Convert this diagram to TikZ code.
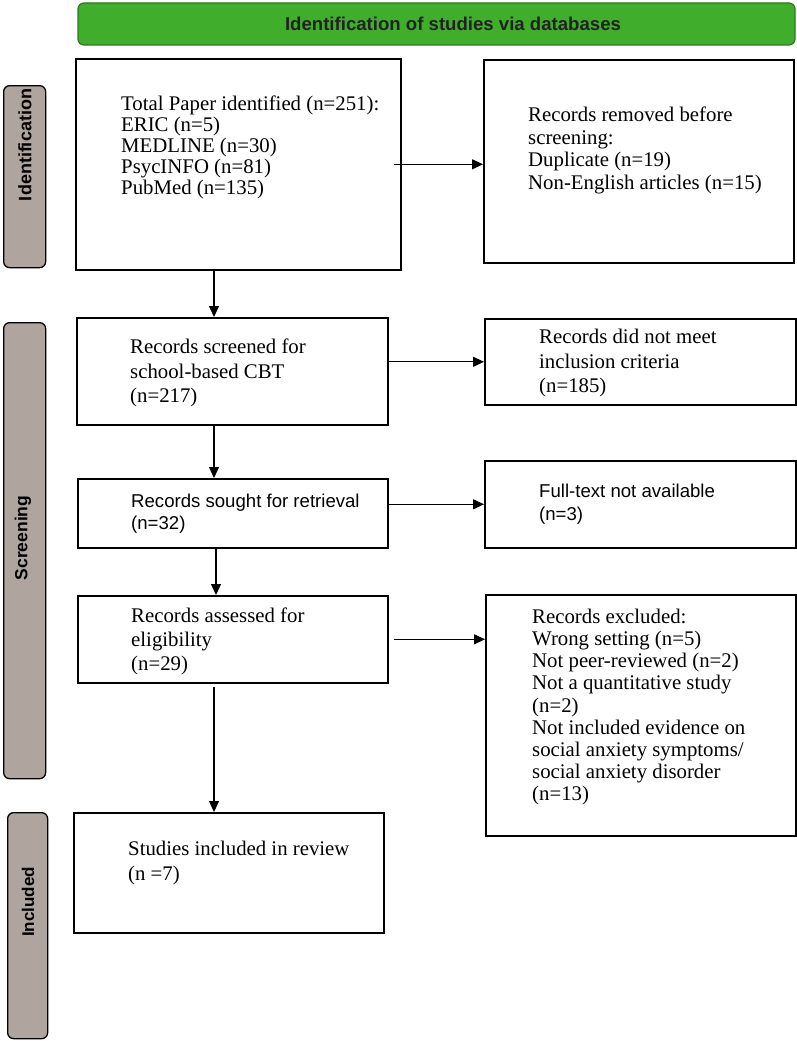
\documentclass[tikz,border=0pt]{standalone}
\usepackage{fontspec}
\setmainfont{Liberation Serif}
\setsansfont{Liberation Sans}
\usetikzlibrary{arrows.meta}
\definecolor{hdrgreen}{RGB}{64,174,44}
\definecolor{hdrborder}{RGB}{46,120,32}
\definecolor{sidefill}{RGB}{176,165,158}
\definecolor{hdrtext}{RGB}{34,34,34}
\begin{document}
\begin{tikzpicture}[x=1pt,y=-1pt,
  box/.style={draw=black,line width=1.6pt,anchor=north west,inner sep=0pt,fill=white},
  sidebar/.style={draw=black,line width=1.3pt,fill=sidefill,rounded corners=6pt,anchor=north west,inner sep=0pt},
  sidetext/.style={rotate=90,font=\sffamily\bfseries\fontsize{18}{20}\selectfont,inner sep=0pt},
  txt/.style={anchor=north west,align=left,inner sep=0pt},
  arr/.style={draw=black,line width=1.1pt,-{Triangle[length=11pt,width=10pt]}}
]
\useasboundingbox (0,0) rectangle (797,1041);
\fill[white] (0,0) rectangle (797,1041);

% header
\node[draw=hdrborder,line width=1.2pt,fill=hdrgreen,rounded corners=6pt,minimum width=717pt,minimum height=42pt,inner sep=0pt] (hdr) at (436.5,24) {};
\node[text=hdrtext,font=\sffamily\bfseries\fontsize{18.6}{22}\selectfont,inner sep=0pt] (hdrt) at (453,24) {Identification of studies via databases};

% side bars
\node[sidebar,minimum width=42pt,minimum height=182pt] (sid) at (3,85) {};
\node[sidetext] (sidt) at (25,145) {Identification};
\node[sidebar,minimum width=42pt,minimum height=456pt] (ssc) at (3,322) {};
\node[sidetext,font=\sffamily\bfseries\fontsize{17.5}{20}\selectfont] (ssct) at (23,538) {Screening};
\node[sidebar,minimum width=40pt,minimum height=226pt] (sin) at (7,812) {};
\node[sidetext,font=\sffamily\bfseries\fontsize{17}{20}\selectfont] (sint) at (28,902) {Included};

% left boxes
\node[box,minimum width=325pt,minimum height=211pt] (b1) at (75,58) {};
\node[box,minimum width=311pt,minimum height=107pt] (b2) at (76,317) {};
\node[box,minimum width=310pt,minimum height=69pt] (b3) at (77,478) {};
\node[box,minimum width=310pt,minimum height=87pt] (b4) at (77,595) {};
\node[box,minimum width=310pt,minimum height=120pt] (b5) at (73,812) {};

% right boxes
\node[box,minimum width=310pt,minimum height=203pt] (r1) at (483,59) {};
\node[box,minimum width=311pt,minimum height=86pt] (r2) at (484,318) {};
\node[box,minimum width=311pt,minimum height=87pt] (r3) at (484,460) {};
\node[box,minimum width=310pt,minimum height=241pt] (r4) at (485,594) {};

% texts
\node[txt,font=\fontsize{20.8}{21}\selectfont] (t1) at (121,96)
  {Total Paper identified (n=251):\\ERIC (n=5)\\MEDLINE (n=30)\\PsycINFO (n=81)\\PubMed (n=135)};
\node[txt,font=\fontsize{20.8}{22.5}\selectfont] (tr1) at (528,107)
  {Records removed before\\screening:\\Duplicate (n=19)\\Non-English articles (n=15)};
\node[txt,font=\fontsize{20.8}{24.4}\selectfont] (t2) at (130,339)
  {Records screened for\\school-based CBT\\(n=217)};
\node[txt,font=\fontsize{20.8}{24.5}\selectfont] (tr2) at (539,329)
  {Records did not meet\\inclusion criteria\\(n=185)};
\node[txt,font=\sffamily\fontsize{18.6}{22}\selectfont] (t3) at (131,494)
  {Records sought for retrieval\\(n=32)};
\node[txt,font=\sffamily\fontsize{18.6}{23}\selectfont] (tr3) at (539,484)
  {Full-text not available\\(n=3)};
\node[txt,font=\fontsize{20.8}{24}\selectfont] (t4) at (131,608)
  {Records assessed for\\eligibility\\(n=29)};
\node[txt,font=\fontsize{20.8}{22.1}\selectfont] (tr4) at (532,609)
  {Records excluded:\\Wrong setting (n=5)\\Not peer-reviewed (n=2)\\Not a quantitative study\\(n=2)\\Not included evidence on\\social anxiety symptoms/\\social anxiety disorder\\(n=13)};
\node[txt,font=\fontsize{20.8}{25}\selectfont] (t5) at (128,841)
  {Studies included in review\\(n =7)};

% connectors
\coordinate (vx) at (214,0);
\coordinate (vy) at (216,0);
\draw[arr] ([xshift=-8pt]b1.east) -- (b1.east -| r1.west);
\draw[arr] (b2.east |- r2.west) -- (r2.west);
\draw[arr] (b3.east |- r3.west) -- (r3.west);
\draw[arr] ([xshift=5pt]b4.east) -- (b4.east -| r4.west);
\draw[arr] (b1.south -| vx) -- (b2.north -| vx);
\draw[arr] (b2.south -| vx) -- (b3.north -| vx);
\draw[arr] (b3.south -| vy) -- (b4.north -| vy);
\draw[arr] ([yshift=-3pt]b4.south -| vx) -- (b5.north -| vx);
\end{tikzpicture}
\end{document}
